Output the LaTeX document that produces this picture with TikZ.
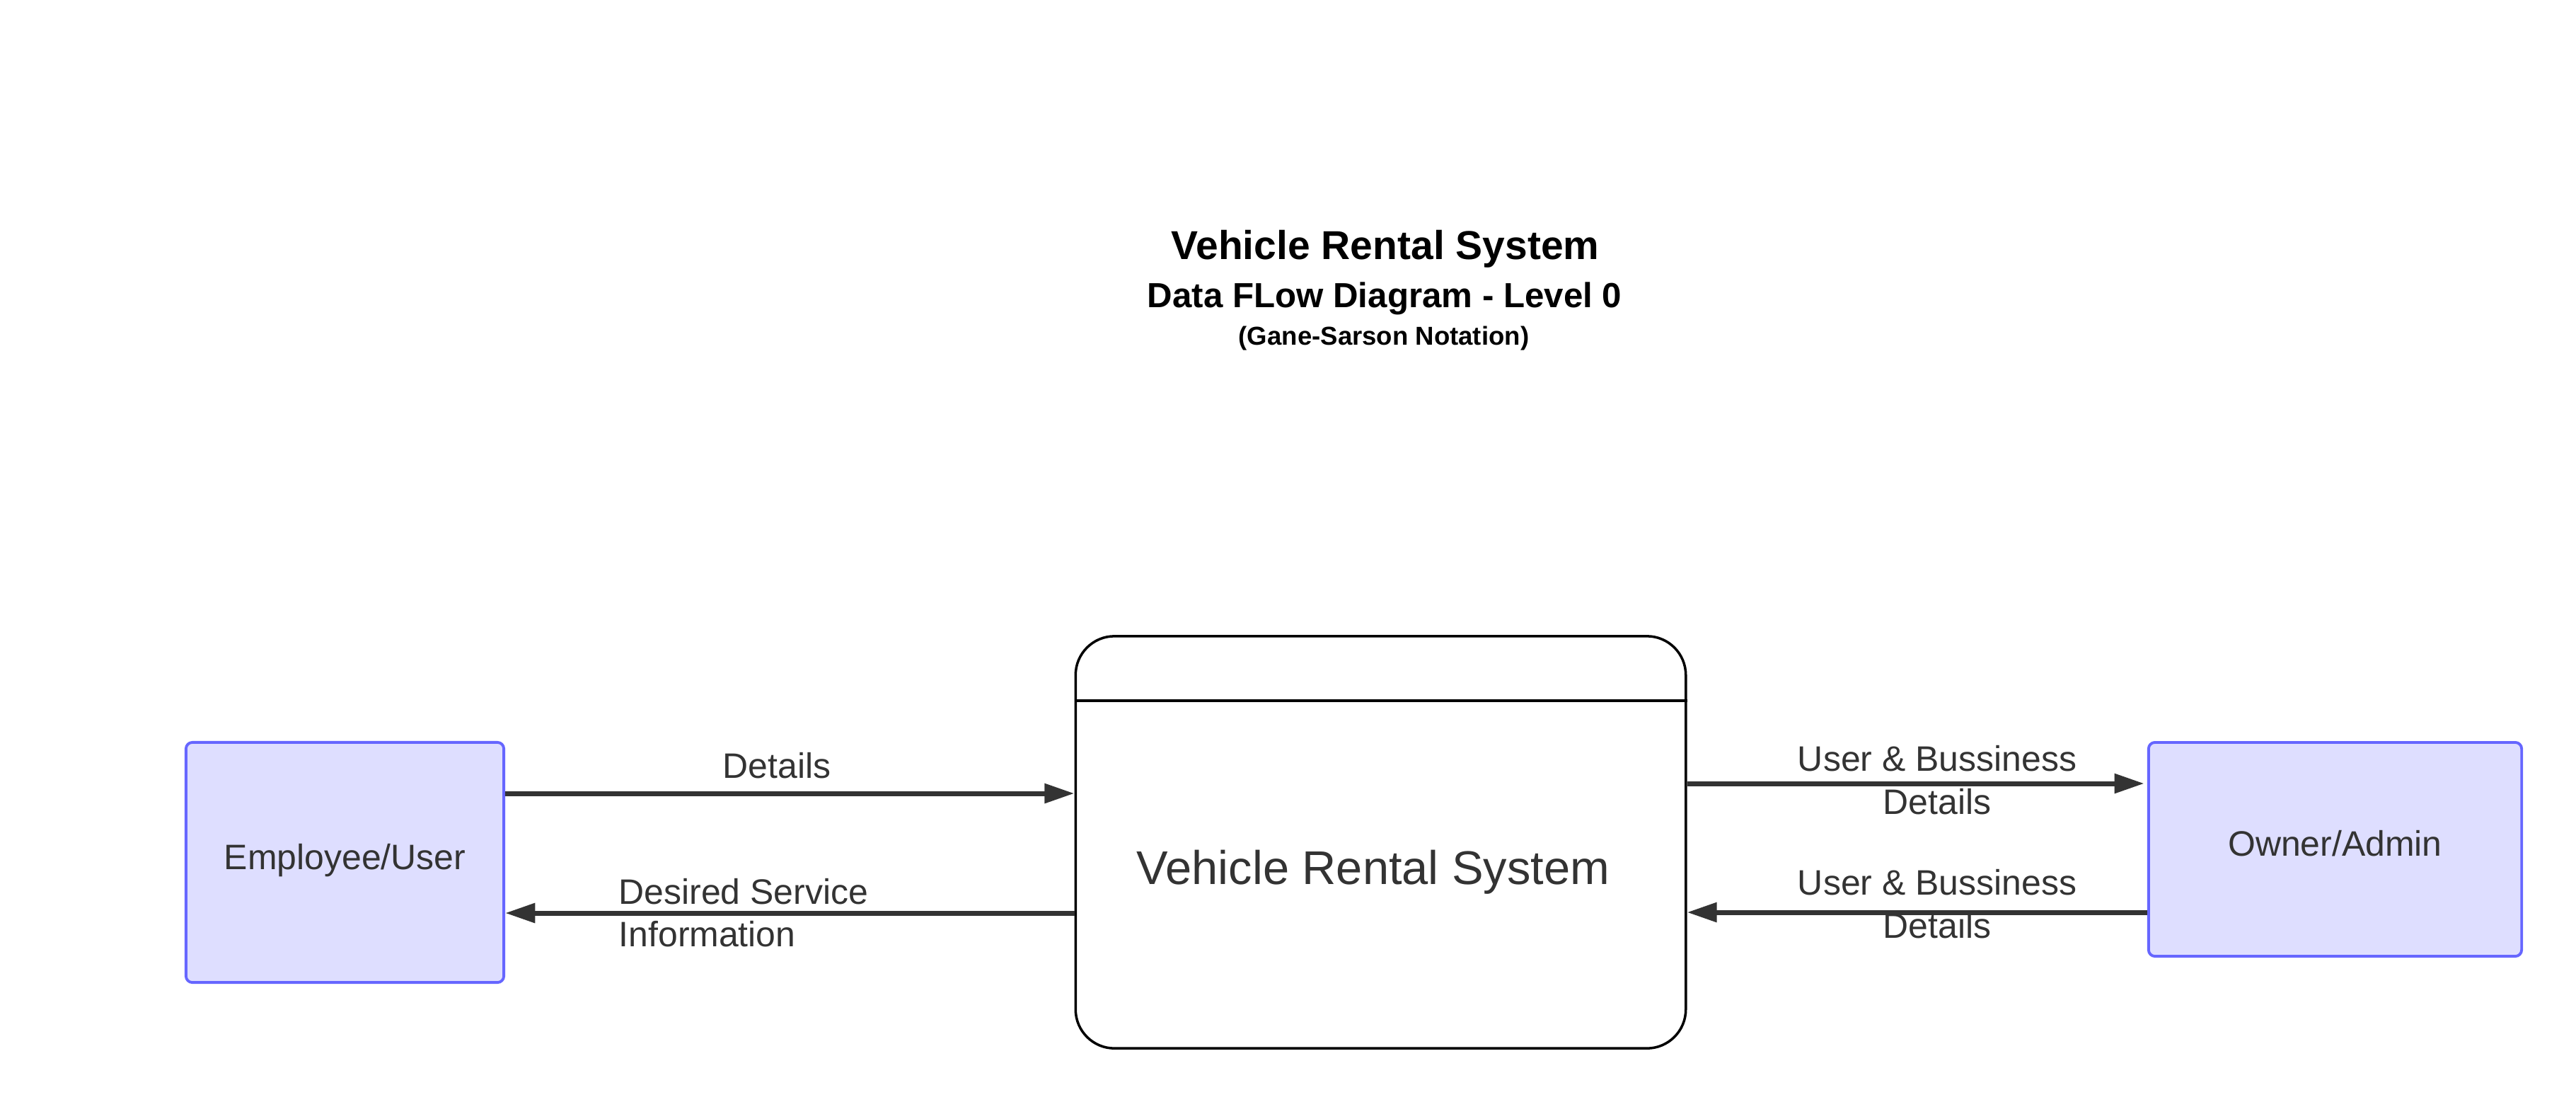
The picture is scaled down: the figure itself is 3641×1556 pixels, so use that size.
\documentclass[tikz,border=0pt]{standalone}
\usepackage{fontspec}
\setmainfont{Liberation Sans}
\usetikzlibrary{arrows.meta,calc}
\definecolor{txt}{HTML}{333333}
\definecolor{entfill}{HTML}{DEDEFF}
\definecolor{entdraw}{HTML}{6666FF}
\tikzset{
  entity/.style={draw=entdraw, fill=entfill, line width=1.1pt, rounded corners=0.09cm, inner sep=0pt},
  process/.style={draw=black, line width=1pt, rounded corners=0.55cm, inner sep=0pt},
  flow/.style={draw=txt, line width=2pt, -{Triangle[length=12pt,width=7.6pt]}},
  lbl/.style={text=txt, font=\fontsize{14.2pt}{17pt}\selectfont, inner sep=0pt, anchor=base},
  big/.style={text=txt, font=\fontsize{19pt}{22pt}\selectfont, inner sep=0pt, anchor=base},
}
\begin{document}
\begin{tikzpicture}[x=0.01cm, y=-0.01cm]
\useasboundingbox (0,0) rectangle (3641,1556);
% title
\node[anchor=base, inner sep=0pt, font=\bfseries\fontsize{16.2pt}{19pt}\selectfont] (t1) at (1958,366) {Vehicle Rental System};
\node[anchor=base, inner sep=0pt, font=\bfseries\fontsize{14pt}{17pt}\selectfont] (t2) at (1957,434) {Data FLow Diagram - Level 0};
\node[anchor=base, inner sep=0pt, font=\bfseries\fontsize{10.4pt}{12pt}\selectfont] (t3) at (1956,487) {(Gane-Sarson Notation)};
% entities and process
\node[entity, minimum width=4.49cm, minimum height=3.39cm] (emp) at (487.5,1218.5) {};
\node[entity, minimum width=5.27cm, minimum height=3.02cm] (own) at (3300.5,1200) {};
\node[process, minimum width=8.62cm, minimum height=5.82cm] (proc) at (1951.5,1190) {};
\draw[black, line width=1pt] (proc.west |- 0,990) coordinate (dl) -- (proc.east |- 0,990) coordinate (dr);
\node[lbl] (empt) at (487.5,1228) {Employee/User};
\node[lbl] (ownt) at (3300.5,1209) {Owner/Admin};
\node[big] (proct) at (1941,1249) {Vehicle Rental System};
% flows
\draw[flow] (emp.east |- 0,1121) -- (proc.west |- 0,1121);
\draw[flow] (proc.west |- 0,1290) -- (emp.east |- 0,1290);
\draw[flow, shorten >=1.2pt] (proc.east |- 0,1107) -- (own.west |- 0,1107);
\draw[flow] (own.west |- 0,1289) -- (proc.east |- 0,1289);
% flow labels
\node[lbl] (l1) at (1098,1099) {Details};
\node[lbl, anchor=base west] (l2a) at (874,1277) {Desired Service};
\node[lbl, anchor=base west] (l2b) at (874,1337) {Information};
\node[lbl] (l3a) at (2738,1089) {User \& Bussiness};
\node[lbl] (l3b) at (2738,1150) {Details};
\node[lbl] (l4a) at (2738,1264) {User \& Bussiness};
\node[lbl] (l4b) at (2738,1325) {Details};
\end{tikzpicture}
\end{document}
